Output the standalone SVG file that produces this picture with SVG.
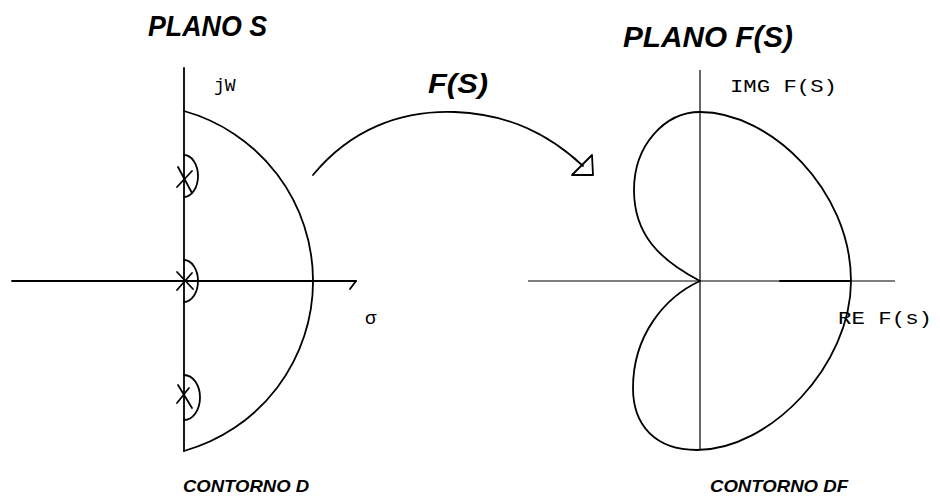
<svg xmlns="http://www.w3.org/2000/svg" width="940" height="496" viewBox="0 0 940 496">
<style>
.ln{fill:none;stroke:#000;stroke-width:1.8;stroke-linecap:round;stroke-linejoin:round}
.thin{fill:none;stroke:#000;stroke-width:1.2}
.title{font-family:"Liberation Sans",Arial,sans-serif;font-weight:bold;font-style:italic;fill:#000}
.mono{font-family:"Liberation Mono","Courier New",monospace;fill:#000}
</style>
<rect width="940" height="496" fill="#fff"/>
<g id="plane-s">
  <line class="ln" x1="184" y1="68" x2="184" y2="451"/>
  <line class="ln" x1="12" y1="281" x2="356" y2="281"/>
  <path class="ln" d="M356,281 L350,289"/>
</g>
<g id="contour-d">
  <path class="ln" d="M184,111 A176.5,176.5 0 0 1 184,451"/>
  <path class="ln" d="M184,155 A14,21 0 0 1 184,197"/>
  <path class="ln" d="M184,260 A14,21 0 0 1 184,302"/>
  <path class="ln" d="M184,375 A16,22.5 0 0 1 184,420"/>
  <path class="ln" d="M177,187 L192,171 M178,167 L192,193"/>
  <path class="ln" d="M177,290 L192,273 M177,272 L193,289"/>
  <path class="ln" d="M178,385 L192,408 M177,403 L189,388"/>
</g>
<g id="plane-fs">
  <line class="thin" x1="700" y1="70" x2="700" y2="449"/>
  <line class="thin" x1="528" y1="281" x2="895" y2="281"/>
  <line class="ln" x1="780" y1="281" x2="850" y2="281"/>
</g>
<g id="contour-df">
  <path class="ln" d="M700,281 C660,260 634,235 634,190 C634,145 665,112 700,112 C770,112 851,190 851,281 C851,365 770,450 697,450 C655,450 633,425 633,388 C633,335 665,297 700,281 Z"/>
</g>
<g id="connectors">
  <path class="ln" d="M313,175 C350,130 400,110 455,112 C510,114 550,135 583,166"/>
  <path class="ln" d="M572,175 L593,175 L592,155 Z"/>
</g>
<g id="labels">
  <text class="title" x="148" y="36" font-size="29" textLength="119" lengthAdjust="spacingAndGlyphs">PLANO S</text>
  <text class="title" x="623" y="47" font-size="29" textLength="170" lengthAdjust="spacingAndGlyphs">PLANO F(S)</text>
  <text class="title" x="428" y="93" font-size="28" textLength="60" lengthAdjust="spacingAndGlyphs">F(S)</text>
  <text class="mono" x="214" y="91" font-size="18">jW</text>
  <text class="mono" x="730" y="92" font-size="18" textLength="107" lengthAdjust="spacingAndGlyphs">IMG F(S)</text>
  <text class="mono" x="838" y="324" font-size="18" textLength="94" lengthAdjust="spacingAndGlyphs">RE F(s)</text>
  <text x="365" y="324" font-family="Liberation Sans,sans-serif" font-size="19">σ</text>
  <text class="title" x="183" y="492" font-size="17" textLength="126" lengthAdjust="spacingAndGlyphs">CONTORNO D</text>
  <text class="title" x="710" y="492" font-size="17" textLength="138" lengthAdjust="spacingAndGlyphs">CONTORNO DF</text>
</g>
</svg>
